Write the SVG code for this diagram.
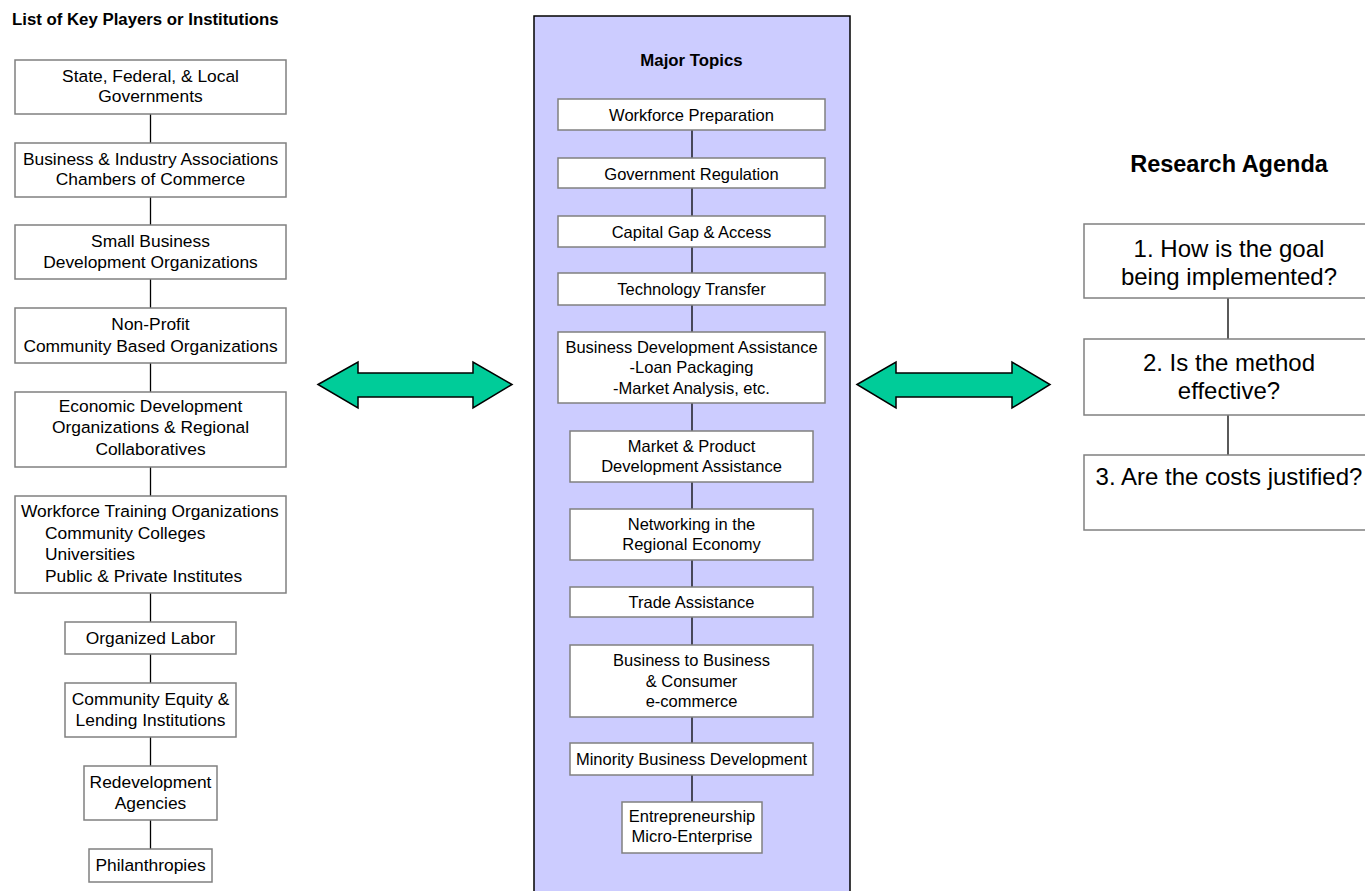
<svg xmlns="http://www.w3.org/2000/svg" width="1365" height="891" viewBox="0 0 1365 891">
<style>
.bg{fill:#ffffff}
.box{fill:#ffffff;stroke:#808080;stroke-width:1.5}
.panel{fill:#ccccff;stroke:#000000;stroke-width:1.5}
.conn{stroke:#000000;stroke-width:1.3;fill:none}
.arrow{fill:#00cc99;stroke:#000000;stroke-width:1.5;stroke-linejoin:miter}
text{font-family:"Liberation Sans",Arial,Helvetica,sans-serif;fill:#000000}
.tl{font-size:17.4px;text-anchor:middle}
.tll{font-size:17.4px}
.tm{font-size:16.5px;text-anchor:middle}
.tr{font-size:24px;text-anchor:middle}
.h1{font-size:16.8px;font-weight:bold}
.h2{font-size:23.5px;font-weight:bold;text-anchor:middle}
</style>
<rect class="bg" x="0" y="0" width="1365" height="891"/>

<g id="panel-major-topics">
<rect class="panel" x="534" y="16" width="316" height="885"/>
<text class="h1" x="691.5" y="65.5" text-anchor="middle">Major Topics</text>
</g>

<text id="title-players" class="h1" x="12" y="25">List of Key Players or Institutions</text>
<text id="title-research" class="h2" x="1229" y="172">Research Agenda</text>

<g id="connectors">
<line class="conn" x1="150.5" y1="114" x2="150.5" y2="143"/>
<line class="conn" x1="150.5" y1="197" x2="150.5" y2="225"/>
<line class="conn" x1="150.5" y1="279" x2="150.5" y2="308"/>
<line class="conn" x1="150.5" y1="363" x2="150.5" y2="392"/>
<line class="conn" x1="150.5" y1="467" x2="150.5" y2="496"/>
<line class="conn" x1="150.5" y1="593" x2="150.5" y2="622"/>
<line class="conn" x1="150.5" y1="654" x2="150.5" y2="683"/>
<line class="conn" x1="150.5" y1="737" x2="150.5" y2="766"/>
<line class="conn" x1="150.5" y1="820" x2="150.5" y2="849"/>

<line class="conn" x1="692" y1="130" x2="692" y2="158"/>
<line class="conn" x1="692" y1="188" x2="692" y2="216"/>
<line class="conn" x1="692" y1="247" x2="692" y2="273"/>
<line class="conn" x1="692" y1="305" x2="692" y2="332"/>
<line class="conn" x1="692" y1="403" x2="692" y2="431"/>
<line class="conn" x1="692" y1="482" x2="692" y2="509"/>
<line class="conn" x1="692" y1="560" x2="692" y2="587"/>
<line class="conn" x1="692" y1="617" x2="692" y2="645"/>
<line class="conn" x1="692" y1="717" x2="692" y2="743"/>
<line class="conn" x1="692" y1="775" x2="692" y2="802"/>

<line class="conn" x1="1228" y1="298" x2="1228" y2="339"/>
<line class="conn" x1="1228" y1="415" x2="1228" y2="455"/>

<polygon class="arrow" points="318,384.5 358,362 358,373 473,373 473,362 512,384.5 473,408 473,397 358,397 358,408"/>
<polygon class="arrow" points="857,384.5 896,362 896,373 1012,373 1012,362 1050,384.5 1012,408 1012,397 896,397 896,408"/>
</g>

<!-- Left column -->
<g id="node-governments">
<rect class="box" x="15" y="60" width="271" height="54"/>
<text class="tl" x="150.5" y="82">State, Federal, &amp; Local</text>
<text class="tl" x="150.5" y="102">Governments</text>
</g>
<g id="node-business-associations">
<rect class="box" x="15" y="143" width="271" height="54"/>
<text class="tl" x="150.5" y="164.5">Business &amp; Industry Associations</text>
<text class="tl" x="150.5" y="185">Chambers of Commerce</text>
</g>
<g id="node-small-business">
<rect class="box" x="15" y="225" width="271" height="54"/>
<text class="tl" x="150.5" y="247">Small Business</text>
<text class="tl" x="150.5" y="268">Development Organizations</text>
</g>
<g id="node-non-profit">
<rect class="box" x="15" y="308" width="271" height="55"/>
<text class="tl" x="150.5" y="330">Non-Profit</text>
<text class="tl" x="150.5" y="351.5">Community Based Organizations</text>
</g>
<g id="node-economic-dev">
<rect class="box" x="15" y="392" width="271" height="75"/>
<text class="tl" x="150.5" y="411.5">Economic Development</text>
<text class="tl" x="150.5" y="433">Organizations &amp; Regional</text>
<text class="tl" x="150.5" y="455">Collaboratives</text>
</g>
<g id="node-workforce-training">
<rect class="box" x="15" y="496" width="271" height="97"/>
<text class="tll" x="21" y="517">Workforce Training Organizations</text>
<text class="tll" x="45" y="538.5">Community Colleges</text>
<text class="tll" x="45" y="560">Universities</text>
<text class="tll" x="45" y="581.5">Public &amp; Private Institutes</text>
</g>
<g id="node-organized-labor">
<rect class="box" x="65" y="622" width="171" height="32"/>
<text class="tl" x="150.5" y="643.5">Organized Labor</text>
</g>
<g id="node-community-equity">
<rect class="box" x="65" y="683" width="171" height="54"/>
<text class="tl" x="150.5" y="705">Community Equity &amp;</text>
<text class="tl" x="150.5" y="726">Lending Institutions</text>
</g>
<g id="node-redevelopment">
<rect class="box" x="84" y="766" width="133" height="54"/>
<text class="tl" x="150.5" y="788">Redevelopment</text>
<text class="tl" x="150.5" y="808.5">Agencies</text>
</g>
<g id="node-philanthropies">
<rect class="box" x="89" y="849" width="123" height="33"/>
<text class="tl" x="150.5" y="870.5">Philanthropies</text>
</g>

<!-- Middle column -->
<g id="node-workforce-prep">
<rect class="box" x="558" y="99" width="267" height="31"/>
<text class="tm" x="691.5" y="121">Workforce Preparation</text>
</g>
<g id="node-gov-regulation">
<rect class="box" x="558" y="158" width="267" height="30"/>
<text class="tm" x="691.5" y="179.5">Government Regulation</text>
</g>
<g id="node-capital-gap">
<rect class="box" x="558" y="216" width="267" height="31"/>
<text class="tm" x="691.5" y="237.5">Capital Gap &amp; Access</text>
</g>
<g id="node-tech-transfer">
<rect class="box" x="558" y="273" width="267" height="32"/>
<text class="tm" x="691.5" y="294.5">Technology Transfer</text>
</g>
<g id="node-business-dev-assist">
<rect class="box" x="558" y="332" width="267" height="71"/>
<text class="tm" x="691.5" y="352.5">Business Development Assistance</text>
<text class="tm" x="691.5" y="373">-Loan Packaging</text>
<text class="tm" x="691.5" y="393.5">-Market Analysis, etc.</text>
</g>
<g id="node-market-product">
<rect class="box" x="570" y="431" width="243" height="51"/>
<text class="tm" x="691.5" y="451.5">Market &amp; Product</text>
<text class="tm" x="691.5" y="471.5">Development Assistance</text>
</g>
<g id="node-networking">
<rect class="box" x="570" y="509" width="243" height="51"/>
<text class="tm" x="691.5" y="530">Networking in the</text>
<text class="tm" x="691.5" y="550">Regional Economy</text>
</g>
<g id="node-trade">
<rect class="box" x="570" y="587" width="243" height="30"/>
<text class="tm" x="691.5" y="607.5">Trade Assistance</text>
</g>
<g id="node-b2b">
<rect class="box" x="570" y="645" width="243" height="72"/>
<text class="tm" x="691.5" y="666">Business to Business</text>
<text class="tm" x="691.5" y="686.5">&amp; Consumer</text>
<text class="tm" x="691.5" y="706.5">e-commerce</text>
</g>
<g id="node-minority">
<rect class="box" x="570" y="743" width="243" height="32"/>
<text class="tm" x="691.5" y="765">Minority Business Development</text>
</g>
<g id="node-entrepreneurship">
<rect class="box" x="622" y="802" width="140" height="51"/>
<text class="tm" x="692" y="821.5">Entrepreneurship</text>
<text class="tm" x="692" y="841.5">Micro-Enterprise</text>
</g>

<!-- Right column -->
<g id="node-q1">
<rect class="box" x="1084" y="224" width="288" height="74"/>
<text class="tr" x="1229" y="257">1. How is the goal</text>
<text class="tr" x="1229" y="285">being implemented?</text>
</g>
<g id="node-q2">
<rect class="box" x="1084" y="339" width="288" height="76"/>
<text class="tr" x="1229" y="371">2. Is the method</text>
<text class="tr" x="1229" y="399">effective?</text>
</g>
<g id="node-q3">
<rect class="box" x="1084" y="455" width="288" height="75"/>
<text class="tr" x="1229" y="485">3. Are the costs justified?</text>
</g>
</svg>
